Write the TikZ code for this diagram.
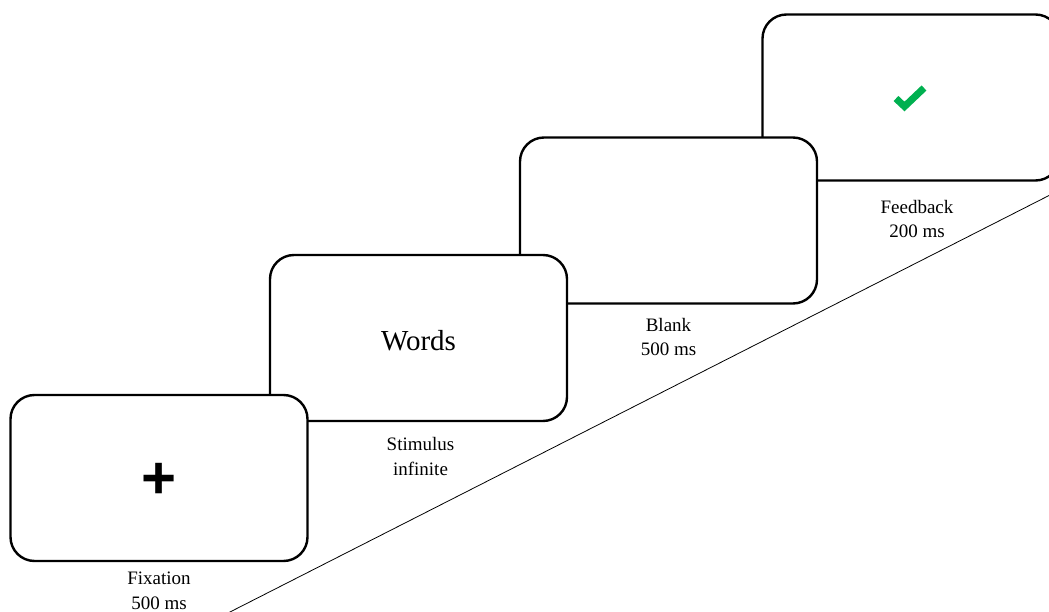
\documentclass[tikz,border=0pt]{standalone}
\usepackage{fontspec}
\setmainfont{Liberation Serif}
\newfontfamily\timesfont{Liberation Serif}
\newfontfamily\plusfont{Liberation Sans}
\usetikzlibrary{positioning}

\definecolor{tickgreen}{RGB}{0,176,80}

\begin{document}
\begin{tikzpicture}[x=1pt, y=-1pt,
    screen/.style={draw, line width=2.4pt, fill=white, rounded corners=24pt,
        minimum width=297pt, minimum height=166pt, inner sep=0pt},
    caption/.style={align=center, inner sep=0pt,
        font=\timesfont\fontsize{19}{24.5}\selectfont}]
        \useasboundingbox (0,0) rectangle (1049,612);
        \clip (0,0) rectangle (1049,612);

        % Timeline line behind the screens
        \coordinate (lineStart) at (228,613);
        \coordinate (lineEnd) at (1050,195);
        \draw[line width=0.8pt] (lineStart) -- (lineEnd);

        % Draw the screens, last one first
        \node[screen] (feedback) at (911,97.5) {};
        \node[screen] (blank) at (668.5,220.5) {};
        \node[screen] (stimulus) at (418.5,338) {};
        \node[screen] (fixation) at (159,478) {};

        % Screen contents
        \node[font=\timesfont\fontsize{29}{34}\selectfont] (words) at (418.5,341) {Words};
        \node[font=\plusfont\bfseries\fontsize{60}{64}\selectfont] (plus) at (159.5,481) {+};
        \draw[tickgreen, line width=7pt] (896,98.5) -- (904.5,106.5) -- (924,88);

        % Captions under the screens
        \node[caption, below=10pt of fixation.south] (fixLabel) {Fixation\\500 ms};
        \node[caption, below=15pt of stimulus.south, xshift=2pt] (stimLabel) {Stimulus\\infinite};
        \node[caption, below=13pt of blank.south] (blankLabel) {Blank\\500 ms};
        \node[caption, below=18pt of feedback.south, xshift=6pt] (feedLabel) {Feedback\\200 ms};

    \end{tikzpicture}
\end{document}
